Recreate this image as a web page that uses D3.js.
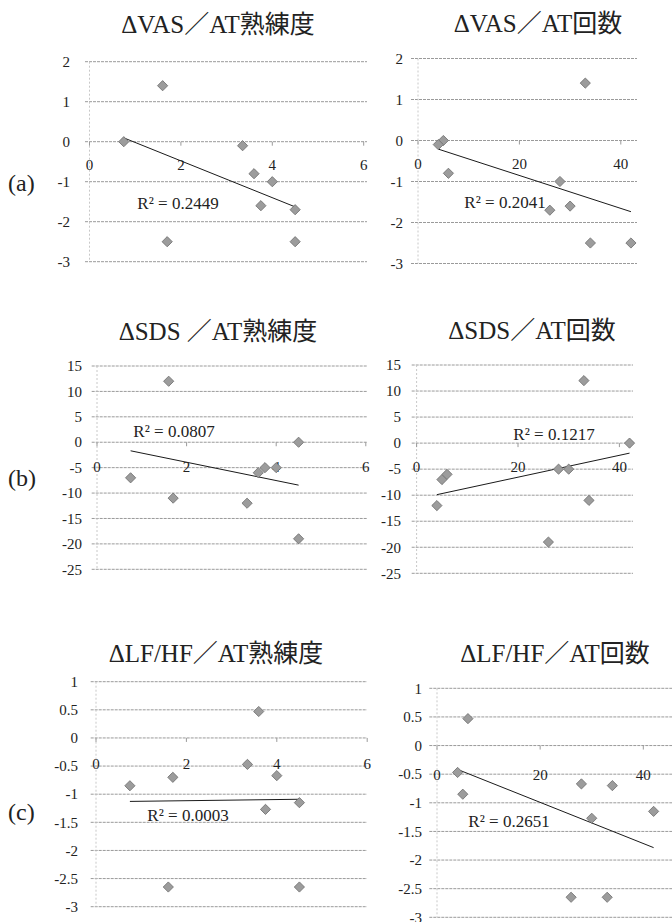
<!DOCTYPE html>
<html>
<head>
<meta charset="utf-8">
<script src="https://cdn.jsdelivr.net/npm/d3@7"></script>
<style>
  body { margin: 0; background: #fff; }
  svg { display: block; }
</style>
</head>
<body>
<svg id="chart" width="672" height="922"></svg>
<script>
// One entry per participant (9 people)
const skillLevel   = [0.75, 1.6, 1.7, 3.35, 3.6, 3.75, 4.0, 4.5, 4.5];   // AT熟練度
const sessionCount = [5, 33, 34, 4, 6, 30, 28, 26, 42];                  // AT回数
const deltaVAS     = [0, 1.4, -2.5, -0.1, -0.8, -1.6, -1.0, -1.7, -2.5];
const deltaSDS     = [-7, 12, -11, -12, -6, -5, -5, -19, 0];
const deltaLFHF    = [-0.85, -2.65, -0.7, -0.47, 0.47, -1.27, -0.67, -2.65, -1.15];

const titles = ["ΔVAS／AT熟練度", "ΔVAS／AT回数", "ΔSDS ／AT熟練度", "ΔSDS／AT回数", "ΔLF/HF／AT熟練度", "ΔLF/HF／AT回数"];
const r2Labels = ["R² = 0.2449", "R² = 0.2041", "R² = 0.0807", "R² = 0.1217", "R² = 0.0003", "R² = 0.2651"];
const rowLabels = ["(a)", "(b)", "(c)"];

const skillTicks = [0, 2, 4, 6];
const countTicks = [0, 20, 40];
const vasTicks  = [2, 1, 0, -1, -2, -3];
const sdsTicks  = [15, 10, 5, 0, -5, -10, -15, -20, -25];
const lfhfTicks = [1, 0.5, 0, -0.5, -1, -1.5, -2, -2.5, -3];

// Placement of each small chart on the page
const layouts = [
  { xDom: [0, 6],  xR: [89.5, 363.7], gridL: 85,  gridR: 367, yR: [261.7, 61.7],  labX: 70,  tX: 218, tY: 33,  r2X: 178, r2Y: 209, xLabDy: 28 },
  { xDom: [0, 40], xR: [418, 620.8],  gridL: 411, gridR: 637, yR: [263.5, 58.5],  labX: 403, tX: 538, tY: 32,  r2X: 505, r2Y: 208, xLabDy: 28 },
  { xDom: [0, 6],  xR: [97, 365.8],   gridL: 91.7, gridR: 367, yR: [569.3, 366],  labX: 82,  tX: 218, tY: 340, r2X: 174, r2Y: 437, xLabDy: 30 },
  { xDom: [0, 40], xR: [416.6, 619.4], gridL: 411.7, gridR: 633, yR: [573.3, 365], labX: 401, tX: 532, tY: 339, r2X: 554, r2Y: 440, xLabDy: 29 },
  { xDom: [0, 6],  xR: [96, 367.2],   gridL: 90.7, gridR: 367, yR: [906.7, 681.7], labX: 78, tX: 216, tY: 662, r2X: 188, r2Y: 821, xLabDy: 31 },
  { xDom: [0, 40], xR: [437, 643.3],  gridL: 429.3, gridR: 672, yR: [917.3, 688.3], labX: 422, tX: 555, tY: 662, r2X: 509, r2Y: 827, xLabDy: 34 }
];

const panels = [
  { xs: skillLevel,   ys: deltaVAS,  xTicks: skillTicks, yTicks: vasTicks },
  { xs: sessionCount, ys: deltaVAS,  xTicks: countTicks, yTicks: vasTicks },
  { xs: skillLevel,   ys: deltaSDS,  xTicks: skillTicks, yTicks: sdsTicks },
  { xs: sessionCount, ys: deltaSDS,  xTicks: countTicks, yTicks: sdsTicks },
  { xs: skillLevel,   ys: deltaLFHF, xTicks: skillTicks, yTicks: lfhfTicks },
  { xs: sessionCount, ys: deltaLFHF, xTicks: countTicks, yTicks: lfhfTicks }
];

// least-squares fit y = a + b x
function linearFit(xs, ys) {
  const mx = d3.mean(xs), my = d3.mean(ys);
  const sxy = d3.sum(xs, (x, i) => (x - mx) * (ys[i] - my));
  const sxx = d3.sum(xs, x => (x - mx) * (x - mx));
  const b = sxy / sxx;
  return { a: my - b * mx, b };
}

const SERIF = "'Liberation Serif', 'Times New Roman', 'DejaVu Serif', 'Noto Sans CJK JP', serif";
const svg = d3.select("#chart")
  .attr("font-family", SERIF)
  .style("font-family", SERIF);
const diamond = d3.symbol(d3.symbolSquare, 52);

panels.forEach((p, k) => {
  const L = layouts[k];
  const yExt = d3.extent(p.yTicks);
  const x = d3.scaleLinear().domain(L.xDom).range(L.xR);
  const y = d3.scaleLinear().domain(yExt).range(L.yR);
  const g = svg.append("g").attr("fill", "#222");

  // title
  g.append("text").attr("x", L.tX).attr("y", L.tY)
    .attr("text-anchor", "middle").attr("font-size", 25).text(titles[k]);

  // horizontal gridlines
  g.selectAll(".grid").data(p.yTicks).join("line")
    .attr("x1", L.gridL).attr("x2", L.gridR)
    .attr("y1", d => y(d)).attr("y2", d => y(d))
    .attr("stroke", "#9a9a9a").attr("stroke-width", 1)
    .attr("stroke-dasharray", "3,1");

  // vertical axis at x = 0
  g.append("line")
    .attr("x1", x(0)).attr("x2", x(0))
    .attr("y1", y(yExt[1])).attr("y2", y(yExt[0]))
    .attr("stroke", "#c8c8c8").attr("stroke-dasharray", "2,2");

  // y tick labels
  g.selectAll(".ylab").data(p.yTicks).join("text")
    .attr("x", L.labX).attr("y", d => y(d))
    .attr("dy", "0.35em").attr("text-anchor", "end")
    .attr("font-size", 15).text(d => d);

  // x tick marks on the zero line and labels below it
  g.selectAll(".xtick").data(p.xTicks).join("line")
    .attr("x1", d => x(d)).attr("x2", d => x(d))
    .attr("y1", y(0)).attr("y2", y(0) + 4)
    .attr("stroke", "#9a9a9a");
  g.selectAll(".xlab").data(p.xTicks).join("text")
    .attr("x", d => x(d)).attr("y", y(0) + L.xLabDy)
    .attr("text-anchor", "middle").attr("font-size", 15).text(d => d);

  // linear trend line across the data range
  const fit = linearFit(p.xs, p.ys);
  const [xmin, xmax] = d3.extent(p.xs);
  g.append("line")
    .attr("x1", x(xmin)).attr("y1", y(fit.a + fit.b * xmin))
    .attr("x2", x(xmax)).attr("y2", y(fit.a + fit.b * xmax))
    .attr("stroke", "#1a1a1a").attr("stroke-width", 1);

  // data points
  g.selectAll(".pt").data(p.xs.map((v, i) => [v, p.ys[i]])).join("path")
    .attr("d", diamond)
    .attr("transform", d => `translate(${x(d[0])},${y(d[1])}) rotate(45)`)
    .attr("fill", "#9c9c9c").attr("stroke", "#707070").attr("stroke-width", 0.8);

  // R² annotation
  g.append("text").attr("x", L.r2X).attr("y", L.r2Y)
    .attr("text-anchor", "middle").attr("font-size", 17).text(r2Labels[k]);
});

// row labels
const rowY = [191, 486, 820];
svg.selectAll(".row").data(rowLabels).join("text")
  .attr("x", 8).attr("y", (d, i) => rowY[i])
  .attr("fill", "#222").attr("font-size", 24).text(d => d);
</script>
</body>
</html>
